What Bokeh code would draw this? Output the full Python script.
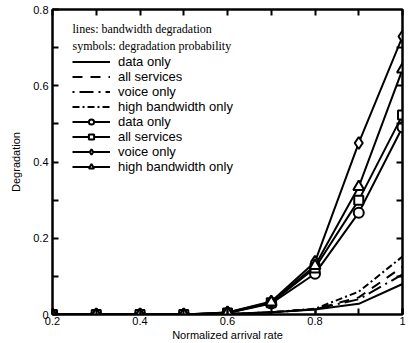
from bokeh.plotting import figure
from bokeh.models import (LinearAxis, Legend, LegendItem, Label, FixedTicker, Range1d)
from bokeh.embed import file_html
from bokeh.resources import INLINE

# ---- data ----
rate = [0.2, 0.3, 0.4, 0.5, 0.6, 0.7, 0.8, 0.9, 1.0]

bw_data = [0, 0, 0, 0, 0.001, 0.006, 0.013, 0.028, 0.080]
bw_all = [0, 0, 0, 0, 0.001, 0.006, 0.014, 0.045, 0.125]
bw_voice = [0, 0, 0, 0, 0.001, 0.006, 0.014, 0.040, 0.105]
bw_high = [0, 0, 0, 0, 0.001, 0.006, 0.015, 0.060, 0.152]

pr_data = [0, 0, 0, 0, 0.004, 0.029, 0.107, 0.267, 0.491]
pr_all = [0, 0, 0, 0, 0.004, 0.031, 0.122, 0.300, 0.523]
pr_voice = [0, 0, 0, 0, 0.005, 0.034, 0.138, 0.450, 0.729]
pr_high = [0, 0, 0, 0, 0.005, 0.032, 0.128, 0.335, 0.643]

labels = ["data only", "all services", "voice only", "high bandwidth only"]
headers = ["lines: bandwidth degradation", "symbols: degradation probability"]
x_ticks = [0.2, 0.4, 0.6, 0.8, 1.0]
y_ticks = [0, 0.2, 0.4, 0.6, 0.8]
fine_ticks = [0.1, 0.2, 0.3, 0.4, 0.5, 0.6, 0.7, 0.8, 0.9, 1.0]
right_ticks = [0.1, 0.2, 0.3, 0.4, 0.5, 0.6, 0.7]

FONT = "Liberation Sans"
SERIF = "Liberation Serif"

p = figure(frame_width=350, frame_height=305, output_backend="svg",
           toolbar_location=None, x_range=Range1d(0.2, 1.0),
           y_range=Range1d(0, 0.8), min_border_left=52, min_border_top=9,
           min_border_right=6, min_border_bottom=28)
p.background_fill_color = "white"
p.border_fill_color = "white"
p.grid.visible = False
p.outline_line_color = "black"
p.outline_line_width = 2

def style_axis(ax):
    ax.axis_line_color = "black"
    ax.axis_line_width = 2
    ax.major_tick_in = 6
    ax.major_tick_out = 0
    ax.major_tick_line_width = 2
    ax.minor_tick_in = 6
    ax.minor_tick_out = 0
    ax.minor_tick_line_width = 2
    ax.major_label_text_font = FONT
    ax.major_label_text_font_size = "11px"
    ax.major_label_text_color = "black"
    ax.axis_label_text_font = FONT
    ax.axis_label_text_font_size = "11px"
    ax.axis_label_text_font_style = "normal"
    ax.axis_label_text_color = "black"

xa = p.xaxis[0]
xa.ticker = FixedTicker(ticks=x_ticks, minor_ticks=fine_ticks)
xa.axis_label = "Normalized arrival rate"
style_axis(xa)
xa.major_label_standoff = 2
xa.axis_label_standoff = 1

ya = p.yaxis[0]
ya.ticker = FixedTicker(ticks=y_ticks, minor_ticks=[0.1, 0.3, 0.5, 0.7])
ya.axis_label = "Degradation"
ya.major_label_overrides = {0: "0"}
style_axis(ya)
ya.major_label_standoff = 4
ya.axis_label_standoff = 8

top = LinearAxis(ticker=FixedTicker(ticks=fine_ticks, minor_ticks=[]))
style_axis(top)
top.major_label_text_font_size = "0px"
top.major_label_text_alpha = 0
p.add_layout(top, "above")
right = LinearAxis(ticker=FixedTicker(ticks=right_ticks, minor_ticks=[]))
style_axis(right)
right.major_label_text_font_size = "0px"
right.major_label_text_alpha = 0
top.major_label_overrides = {t: "" for t in fine_ticks}
right.major_label_overrides = {t: "" for t in right_ticks}
p.add_layout(right, "right")

LW = 2
items = []
# bandwidth degradation lines
for ys, dash, lab in [(bw_data, "solid", labels[0]), (bw_all, "10 8", labels[1]),
                      (bw_voice, "2 5 14 5", labels[2]), (bw_high, "7 3 2 3", labels[3])]:
    r = p.line(rate, ys, line_color="black", line_width=LW, line_dash=dash)
    items.append(LegendItem(label=lab, renderers=[r]))

# probability lines with markers
for ys, mk, sz, lab in [(pr_data, "circle", 10, labels[0]), (pr_all, "square", 9, labels[1]),
                        (pr_voice, "diamond", 12, labels[2]), (pr_high, "triangle", 11, labels[3])]:
    rl = p.line(rate, ys, line_color="black", line_width=LW)
    rs = p.scatter(rate, ys, marker=mk, size=sz, fill_color="white",
                   line_color="black", line_width=2)
    items.append(LegendItem(label=lab, renderers=[rl, rs]))

legend = Legend(items=items, location=(20, 140), padding=0, margin=0,
                glyph_width=38, glyph_height=13, label_height=13, spacing=0,
                label_standoff=8, label_text_font=FONT, label_text_font_size="13px",
                label_text_color="black", background_fill_alpha=0,
                border_line_color=None)
p.add_layout(legend, "center")

p.add_layout(Label(x=0.2457, y=0.75, text=headers[0], text_font=SERIF,
                   text_font_size="12px", text_baseline="middle", text_color="black"))
p.add_layout(Label(x=0.2457, y=0.703, text=headers[1], text_font=SERIF,
                   text_font_size="12px", text_baseline="middle", text_color="black"))

open("out.html", "w").write(file_html(p, INLINE))
